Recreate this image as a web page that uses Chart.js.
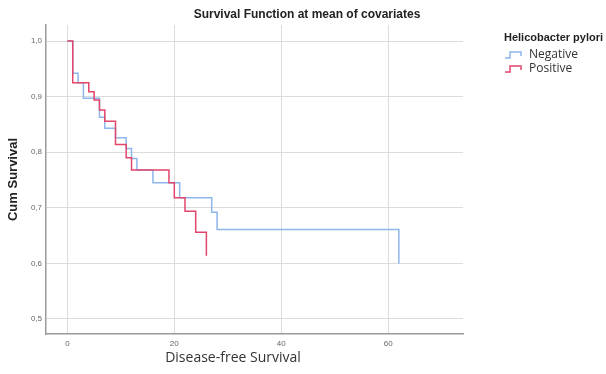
<!DOCTYPE html>
<html>
<head>
<meta charset="utf-8">
<script src="https://cdn.jsdelivr.net/npm/chart.js@4"></script>
<style>
  html, body { margin: 0; padding: 0; background: #fff; }
  #wrap { width: 606px; height: 374px; position: relative; }
</style>
</head>
<body>
<div id="wrap"><canvas id="km-chart"></canvas></div>
<script>
// Kaplan-Meier step values
const negTimes = [0, 1, 2, 3, 6, 7, 9, 11, 12, 13, 16, 21, 27, 28, 62];
const negSurv = [1.0, 0.942, 0.925, 0.897, 0.863, 0.843, 0.826, 0.807, 0.789, 0.768, 0.745, 0.718, 0.692, 0.661, 0.600];
const posTimes = [0, 1, 4, 5, 6, 7, 9, 11, 12, 19, 20, 22, 24, 26];
const posSurv = [1.0, 0.925, 0.909, 0.894, 0.876, 0.856, 0.814, 0.790, 0.768, 0.745, 0.718, 0.694, 0.656, 0.614];

const xTicks = [0, 20, 40, 60];
const yTicks = [0.5, 0.6, 0.7, 0.8, 0.9, 1.0];

const groupLabels = ['Negative', 'Positive'];
const legendTitle = 'Helicobacter pylori';
const chartTitle = 'Survival Function at mean of covariates';
const xTitle = 'Disease-free Survival';
const yTitle = 'Cum Survival';

const blue = '#8db6ec';
const red = '#e2466b';

function toPoints(times, surv) {
    return times.map((t, i) => ({ x: t, y: surv[i] }));
}

// title, x title and step-shaped legend
const extrasPlugin = {
    id: 'extras',
    afterDraw(chart) {
        const ctx = chart.ctx;
        ctx.save();
        ctx.fillStyle = '#222';
        ctx.textBaseline = 'middle';

        ctx.font = 'bold 12px "Liberation Sans", Arial, sans-serif';
        ctx.textAlign = 'center';
        ctx.fillText(chartTitle, 307, 15);

        ctx.font = '14px "Open Sans", sans-serif';
        ctx.fillStyle = '#333';
        ctx.fillText(xTitle, 233, 358);

        ctx.textAlign = 'left';
        ctx.fillStyle = '#222';
        ctx.font = 'bold 11px "Liberation Sans", Arial, sans-serif';
        ctx.fillText(legendTitle, 504, 38);

        ctx.font = '12px "Open Sans", sans-serif';
        chart.data.datasets.forEach((ds, i) => {
            const y = 55 + i * 14;
            ctx.strokeStyle = ds.borderColor;
            ctx.lineWidth = 1.5;
            ctx.beginPath();
            ctx.moveTo(505, y + 3);
            ctx.lineTo(510, y + 3);
            ctx.lineTo(510, y - 3);
            ctx.lineTo(521, y - 3);
            ctx.lineTo(521, y + 1);
            ctx.stroke();
            ctx.fillStyle = '#333';
            ctx.fillText(ds.label, 529, y);
        });
        ctx.restore();
    }
};

new Chart(document.getElementById('km-chart').getContext('2d'), {
    type: 'line',
    data: {
        datasets: [
            {
                label: groupLabels[0],
                data: toPoints(negTimes, negSurv),
                borderColor: blue,
                borderWidth: 1.5,
                stepped: 'before',
                pointRadius: 0,
                fill: false,
                order: 1
            },
            {
                label: groupLabels[1],
                data: toPoints(posTimes, posSurv),
                borderColor: red,
                borderWidth: 1.5,
                stepped: 'before',
                pointRadius: 0,
                fill: false,
                order: 0
            }
        ]
    },
    options: {
        responsive: true,
        maintainAspectRatio: false,
        animation: false,
        layout: { padding: { top: 25, right: 143, bottom: 0, left: 0 } },
        plugins: {
            legend: { display: false },
            title: { display: false },
            tooltip: { enabled: false }
        },
        scales: {
            x: {
                type: 'linear',
                min: -4,
                max: 74,
                afterBuildTicks: s => { s.ticks = xTicks.map(v => ({ value: v })); },
                afterFit: s => { s.height = 40; },
                grid: { color: '#dcdcdc', lineWidth: 1, drawTicks: false },
                border: { color: '#9a9a9a', width: 1.5 },
                ticks: { color: '#666', font: { size: 8 }, padding: 5 }
            },
            y: {
                type: 'linear',
                min: 0.473,
                max: 1.029,
                afterBuildTicks: s => { s.ticks = yTicks.map(v => ({ value: v })); },
                afterFit: s => { s.width = 46; },
                grid: { color: '#dcdcdc', lineWidth: 1, drawTicks: false },
                border: { color: '#9a9a9a', width: 1.5 },
                ticks: {
                    color: '#666',
                    font: { size: 8 },
                    padding: 4,
                    callback: v => v.toFixed(1).replace('.', ',')
                },
                title: {
                    display: true,
                    text: yTitle,
                    color: '#222',
                    font: { size: 13, weight: 'bold', family: '"Liberation Sans", Arial, sans-serif' },
                    padding: { top: 6, bottom: 0 }
                }
            }
        }
    },
    plugins: [extrasPlugin]
});
</script>
</body>
</html>
